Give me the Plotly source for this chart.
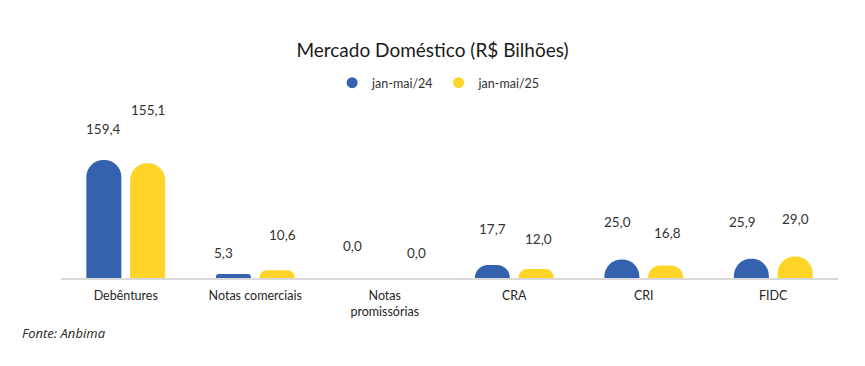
import plotly.graph_objects as go

categories = ["Debêntures", "Notas comerciais", "Notas<br>promissórias", "CRA", "CRI", "FIDC"]
series_names = ["jan-mai/24", "jan-mai/25"]
values_24 = [159.4, 5.3, 0.0, 17.7, 25.0, 25.9]
values_25 = [155.1, 10.6, 0.0, 12.0, 16.8, 29.0]

colors = ["#3462AE", "#FFD426"]
# label offsets (pixels) relative to the top of each bar: (dx, dy)
label_offsets_24 = [(0, 31), (-10, 21), (-10, 32), (0, 36), (-4, 38), (-9, 37)]
label_offsets_25 = [(0, 53), (5, 35), (10, 25), (2, 30), (2, 33), (0, 38)]

FONT = "Lato"

fig = go.Figure()
for name, vals, col in zip(series_names, [values_24, values_25], colors):
    fig.add_trace(go.Bar(
        x=categories, y=vals, name=name, marker=dict(color=col, cornerradius="50%", line=dict(width=0)),
        showlegend=False, offsetgroup=name, hoverinfo="skip",
    ))
    fig.add_trace(go.Scatter(
        x=[None], y=[None], mode="markers", name=name,
        marker=dict(color=col, size=11, symbol="circle"), showlegend=True,
    ))

def fmt(v):
    return f"{v:.1f}".replace(".", ",")

annotations = []
for si, (vals, offs) in enumerate([(values_24, label_offsets_24), (values_25, label_offsets_25)]):
    for ci, (cat, v) in enumerate(zip(categories, vals)):
        dx, dy = offs[ci]
        annotations.append(dict(
            x=cat, y=v, text=fmt(v), showarrow=False, xref="x", yref="y",
            xshift=(-22 if si == 0 else 22) + dx, yshift=dy,
            yanchor="middle", xanchor="center",
            font=dict(family=FONT, size=13.5, color="#333333"),
        ))

annotations.append(dict(
    x=-0.0528, y=-0.2926, xref="paper", yref="paper", text="<i>Fonte: Anbima</i>",
    showarrow=False, xanchor="left", yanchor="middle",
    font=dict(family="Noto Sans", size=13, color="#333333"),
))

fig.update_layout(
    width=865, height=366,
    margin=dict(l=61, r=27, t=90, b=88, autoexpand=False),
    paper_bgcolor="white", plot_bgcolor="white",
    barmode="group", bargap=0.324, bargroupgap=0.2,
    title=dict(text="Mercado Doméstico (R$ Bilhões)", x=0.5, xanchor="center",
               y=1 - 50 / 366, yanchor="middle", yref="container",
               font=dict(family=FONT, size=19, color="#1a1a1a")),
    legend=dict(orientation="h", x=0.486, xanchor="center", y=1.037, yanchor="middle",
                font=dict(family=FONT, size=12.5, color="#333333"),
                itemwidth=30, bgcolor="rgba(0,0,0,0)"),
    xaxis=dict(showline=True, linecolor="#D9D9D9", linewidth=1.5, ticks="", showgrid=False,
               tickfont=dict(family=FONT, size=12.5, color="#262626"), zeroline=False,
               automargin=False, ticklabelstandoff=5),
    yaxis=dict(range=[0, 254], visible=False, showgrid=False, zeroline=False, automargin=False),
    annotations=annotations,
    hovermode=False,
)

fig.write_html("out.html", config={"displayModeBar": False},
               post_script="document.body.style.margin='0px';")
